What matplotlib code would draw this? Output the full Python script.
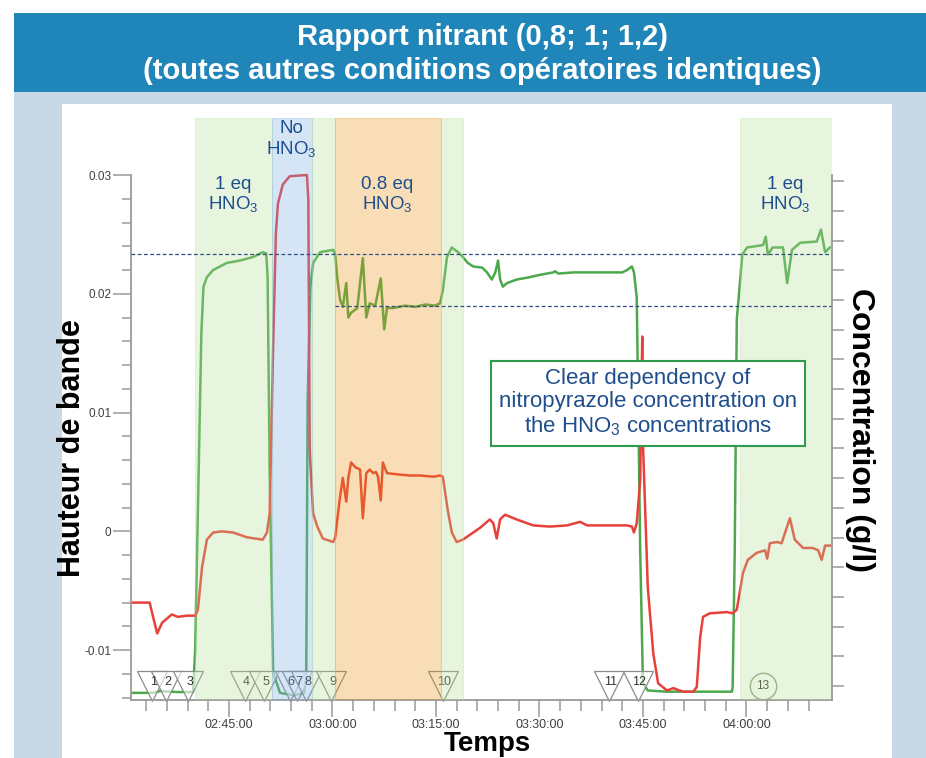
import matplotlib
matplotlib.use("Agg")
import matplotlib.pyplot as plt
from matplotlib.patches import Rectangle
from matplotlib.ticker import FuncFormatter
import numpy as np

plt.rcParams['font.family'] = ['Liberation Sans', 'DejaVu Sans']
plt.rcParams['mathtext.fontset'] = 'custom'
plt.rcParams['mathtext.rm'] = 'Liberation Sans'
plt.rcParams['mathtext.it'] = 'Liberation Sans:italic'
plt.rcParams['mathtext.bf'] = 'Liberation Sans:bold'

# temps en minutes après 02:00:00
green_t = [30.8, 34.0, 35.0, 37.5, 39.8, 40.1, 41.0, 41.3, 41.8, 42.7, 44.7, 46.6, 48.5, 49.9, 50.4,
           50.6, 50.9, 51.4, 52.4, 54.3, 55.9, 56.2, 56.4, 56.8, 57.2, 58.2, 60.1, 60.4, 60.7, 61.1,
           61.5, 62.0, 62.3, 62.7, 63.6, 64.4, 64.9, 65.4, 66.2, 67.0, 67.5, 67.9, 68.8, 70.5, 72.0,
           73.5, 74.8, 75.6, 76.0, 76.6, 77.3, 78.2, 78.9, 79.6, 80.4, 81.7, 82.4, 83.1, 83.6, 84.0,
           84.3, 84.7, 85.3, 86.7, 88.6, 90.1, 92.0, 92.3, 92.7, 94.9, 97.8, 99.8, 102.0, 102.7, 103.4,
           103.7, 104.1, 104.3, 104.6, 105.0, 105.7, 108.5, 113.3, 117.9, 118.0, 118.3, 118.6, 119.4,
           120.1, 122.4, 122.8, 123.1, 123.8, 125.3, 125.9, 126.6, 127.8, 130.2, 130.8, 131.4, 132.1]
green_v = [-0.0136, -0.0136, -0.01345, -0.01353, -0.01353, -0.0100, 0.0167, 0.0206, 0.0214, 0.0220,
           0.0226, 0.0228, 0.0231, 0.0235, 0.0234, 0.0214, 0.0050, -0.0119, -0.0136, -0.0138, -0.0136,
           -0.0120, 0.0110, 0.0206, 0.0226, 0.0235, 0.0237, 0.0233, 0.0213, 0.0195, 0.0189, 0.0209,
           0.0180, 0.0184, 0.0188, 0.0230, 0.0180, 0.0192, 0.0190, 0.0213, 0.0170, 0.0188, 0.0188,
           0.0190, 0.0189, 0.0191, 0.0190, 0.0192, 0.0203, 0.0231, 0.0239, 0.0235, 0.0231, 0.0226,
           0.0223, 0.0222, 0.0218, 0.0212, 0.0218, 0.0228, 0.0212, 0.0206, 0.0209, 0.0212, 0.0214,
           0.0216, 0.0218, 0.0219, 0.0217, 0.0218, 0.0218, 0.0218, 0.0218, 0.0220, 0.0223, 0.0218,
           0.0197, 0.0113, -0.0016, -0.0128, -0.0134, -0.0135, -0.0135, -0.0135, -0.0131, -0.0018,
           0.0178, 0.0233, 0.0239, 0.0241, 0.0248, 0.0233, 0.0239, 0.0239, 0.0209, 0.0237, 0.0243,
           0.0244, 0.0254, 0.0235, 0.0239]

red_t = [30.9, 33.5, 34.0, 34.6, 35.3, 36.7, 37.6, 38.9, 40.1, 40.5, 41.1, 41.8, 42.7, 44.0, 45.6,
         47.6, 49.9, 50.5, 50.9, 51.4, 51.8, 52.1, 52.8, 53.8, 56.3, 56.5, 56.7, 57.2, 57.8, 58.6,
         60.1, 60.4, 60.7, 61.1, 61.5, 62.0, 62.3, 62.7, 63.3, 64.0, 64.4, 64.9, 65.4, 65.9, 66.3,
         66.6, 67.0, 67.3, 67.9, 69.4, 71.2, 72.7, 74.6, 75.6, 76.0, 76.7, 77.3, 78.0, 78.9, 79.9,
         81.4, 82.8, 83.3, 83.8, 84.3, 85.0, 86.7, 89.1, 91.5, 94.0, 95.9, 96.9, 99.8, 102.7, 103.4,
         103.7, 104.1, 104.6, 104.9, 105.0, 105.7, 106.5, 107.2, 108.5, 109.4, 110.8, 112.3, 112.8,
         113.3, 113.7, 114.7, 117.2, 118.0, 118.6, 119.5, 120.2, 121.5, 122.7, 123.0, 123.4, 124.4,
         125.1, 125.6, 126.3, 127.0, 128.2, 129.6, 130.4, 130.9, 131.4, 132.1]
red_v = [-0.0060, -0.0060, -0.0072, -0.0086, -0.0077, -0.0070, -0.0072, -0.0071, -0.0071, -0.0066,
         -0.0030, -0.0007, -0.0001, 0.0000, -0.0001, -0.0005, -0.0007, -0.0001, 0.0015, 0.0155,
         0.0251, 0.0276, 0.0292, 0.0299, 0.0300, 0.0279, 0.0068, 0.0015, 0.0004, -0.0006, -0.0009,
         -0.0005, 0.0010, 0.0029, 0.0045, 0.0025, 0.0045, 0.0058, 0.0054, 0.0052, 0.0011, 0.0049,
         0.0052, 0.0049, 0.0050, 0.0046, 0.0026, 0.0058, 0.0049, 0.0048, 0.0047, 0.0047, 0.0046,
         0.0047, 0.0046, 0.0018, -0.0001, -0.0009, -0.0007, -0.0003, 0.0003, 0.0010, 0.0007, -0.0006,
         0.0010, 0.0014, 0.0010, 0.0005, 0.0004, 0.0005, 0.0008, 0.0005, 0.0005, 0.0005, 0.0004,
         -0.0001, 0.0007, 0.0043, 0.0164, 0.0074, -0.0047, -0.0103, -0.0128, -0.0134, -0.0132,
         -0.0135, -0.0135, -0.0131, -0.0089, -0.0072, -0.0069, -0.0068, -0.0069, -0.0066, -0.0035,
         -0.0024, -0.0018, -0.0016, -0.0023, -0.0010, -0.0009, -0.0010, -0.0001, 0.0011, -0.0007,
         -0.0014, -0.0014, -0.0016, -0.0024, -0.0012, -0.0012]

# zones de conditions opératoires
zone_start = [40.1, 51.2, 57.0, 60.4, 75.7, 119.1]
zone_end = [51.2, 57.0, 60.4, 75.7, 78.9, 132.4]
zone_kind = ['vert', 'bleu', 'vert', 'orange', 'vert', 'vert']
zone_colors = {'vert': '#B6DE94', 'bleu': '#76ACE4', 'orange': '#E89112'}

zone_labels = ['1 eq\nHNO$_3$', 'No\nHNO$_3$', '0.8 eq\nHNO$_3$', '1 eq\nHNO$_3$']
zone_label_t = [45.6, 54.1, 67.9, 125.6]
zone_label_v = [0.0283, 0.0330, 0.0283, 0.0283]

# niveaux de référence (pointillés)
ref_levels = [0.02335, 0.0190]
ref_start = [30.8, 60.4]

# événements
event_t = [33.8, 35.9, 39.1, 47.3, 50.1, 53.8, 54.9, 56.2, 59.8, 76.0, 100.1, 104.3]
event_lbl = ['1', '2', '3', '4', '5', '6', '7', '8', '9', '10', '11', '12']
circle_t = [122.4]
circle_lbl = ['13']

W, H = 926, 758
fig = plt.figure(figsize=(W / 100, H / 100), dpi=100)


def px_rect(x0, y0, x1, y1, color):
    r = Rectangle((x0 / W, 1 - y1 / H), (x1 - x0) / W, (y1 - y0) / H,
                  transform=fig.transFigure, facecolor=color, edgecolor='none', zorder=-10)
    fig.add_artist(r)


px_rect(14, 92, 926, 758, '#C9D8E6')
px_rect(62, 104, 892, 758, 'white')
px_rect(14, 13, 926, 92, '#2085B8')

fig.text(0.521, 0.929, 'Rapport nitrant (0,8; 1; 1,2)\n(toutes autres conditions opératoires identiques)',
         color='white', fontsize=21, fontweight='bold', ha='center', va='center', linespacing=1.3)

ax = fig.add_axes([131 / W, 58 / H, 701 / W, 582 / H])
ax.set_facecolor('none')
ax.set_xlim(30.8, 132.4)
ax.set_ylim(-0.0142, 0.0348)

ax.plot(green_t, green_v, color='#4DA84D', lw=1.8, zorder=2)
ax.plot(red_t, red_v, color='#E8403A', lw=1.8, zorder=2)

for s, e, k in zip(zone_start, zone_end, zone_kind):
    ax.axvspan(s, e, facecolor=zone_colors[k], edgecolor=zone_colors[k], alpha=0.3, lw=0.8, zorder=3)

for lvl, st in zip(ref_levels, ref_start):
    ax.hlines(lvl, st, 132.4, colors='#2F4F80', lw=0.9, linestyles=(0, (3, 2)), zorder=4)

for t, lab, v in zip(zone_label_t, zone_labels, zone_label_v):
    ax.text(t, v, lab, color='#1D4F91', fontsize=13.5, ha='center', va='center',
            linespacing=1.1, zorder=5)

ev_y = -0.0130
for t, lab in zip(event_t, event_lbl):
    ax.plot([t], [ev_y], marker='v', ms=21, mfc=(1, 1, 1, 0.6), mec='#8C8C8C', mew=0.9,
            zorder=2.5, clip_on=False)
    ax.text(t + 0.2, ev_y + 0.0003, lab, fontsize=9, color='#333333', ha='center', va='center',
            zorder=2.6)
for t, lab in zip(circle_t, circle_lbl):
    ax.plot([t], [ev_y], marker='o', ms=19, mfc='none', mec='#8FA382', mew=1.0, zorder=2.5)
    ax.text(t, ev_y, lab, fontsize=8.5, color='#333333', ha='center', va='center', zorder=2.6)

ax.text(105.7, 0.0108,
        'Clear dependency of\nnitropyrazole concentration on\nthe HNO$_3$ concentrations',
        color='#1F4E8C', fontsize=16, ha='center', va='center', linespacing=1.15, zorder=6,
        bbox=dict(boxstyle='square,pad=0.35', facecolor='white', edgecolor='#2E9B4F', lw=1.5))

# axes
spine_col = '#9A9A9A'
for side in ['top', 'right']:
    ax.spines[side].set_visible(False)
for side in ['left', 'bottom']:
    ax.spines[side].set_color(spine_col)
    ax.spines[side].set_linewidth(1.3)
ax.spines['left'].set_bounds(-0.0142, 0.03)

ax.set_yticks([-0.01, 0, 0.01, 0.02, 0.03])
ax.set_yticklabels(['-0.01', '0', '0.01', '0.02', '0.03'])
ax.set_yticks(np.arange(-0.014, 0.0301, 0.002), minor=True)
ax.set_xticks([45, 60, 75, 90, 105, 120])
ax.set_xticks(np.arange(33, 132, 3), minor=True)
ax.xaxis.set_major_formatter(FuncFormatter(lambda m, p: '%02d:%02d:00' % (2 + int(m) // 60, int(m) % 60)))

ax.tick_params(axis='y', which='major', length=13, width=1.1, color=spine_col, labelsize=8.5,
               labelcolor='#404040', pad=1)
ax.tick_params(axis='y', which='minor', length=6.5, width=1.1, color=spine_col)
ax.tick_params(axis='x', which='major', length=12, width=1.1, color=spine_col, labelsize=9,
               labelcolor='#404040', pad=1.5)
ax.tick_params(axis='x', which='minor', length=8, width=1.1, color=spine_col)

ax2 = ax.twinx()
ax2.set_ylim(-0.471, 19.125)
for side in ['top', 'left', 'bottom']:
    ax2.spines[side].set_visible(False)
ax2.spines['right'].set_color(spine_col)
ax2.spines['right'].set_linewidth(1.3)
ax2.spines['right'].set_bounds(-0.471, 17.2)
ax2.set_yticks(range(18))
ax2.tick_params(axis='y', length=8.5, width=1.1, color=spine_col, labelright=False)

fig.text(72 / W, 1 - 448 / H, 'Hauteur de bande', rotation=90, fontsize=22, fontweight='bold',
         ha='center', va='center')
fig.text(860 / W, 1 - 430 / H, 'Concentration (g/l)', rotation=-90, fontsize=23, fontweight='bold',
         ha='center', va='center')
fig.text(487 / W, 1 - 751 / H, 'Temps', fontsize=20, fontweight='bold', ha='center', va='baseline')

fig.savefig('out.png', dpi=100)
